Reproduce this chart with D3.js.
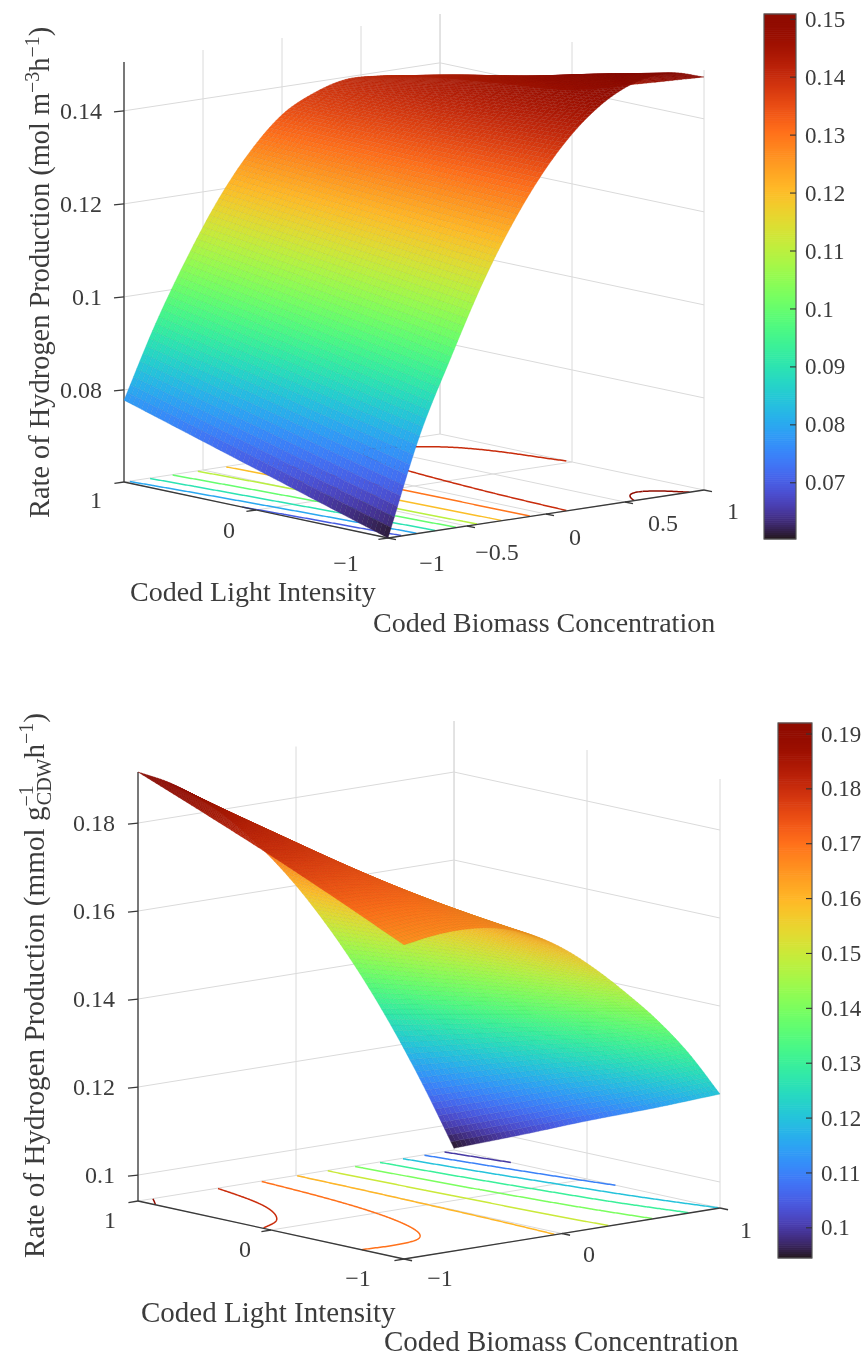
<!DOCTYPE html>
<html>
<head>
<meta charset="utf-8">
<script src="https://cdn.jsdelivr.net/npm/d3@7"></script>
<style>
  html, body { margin: 0; padding: 0; background: #fff; }
  svg { display: block; filter: blur(0.5px); }
  text { font-family: "Liberation Serif", serif; fill: #3c3c3c; }
</style>
</head>
<body>
<svg id="chart" width="866" height="1358"></svg>
<script>
// Grid positions of the read-off values
const biomassLevels = [-1, -0.8, -0.6, -0.4, -0.2, 0, 0.2, 0.4, 0.6, 0.8, 1];
const lightLevels = [-1, -0.5, 0, 0.5, 1];

// Upper plot, rate in mol m-3 h-1, one array per coded light level
const volRateLightM1  = [0.0602, 0.0811, 0.0971, 0.1120, 0.1244, 0.1345, 0.1422, 0.1475, 0.1504, 0.1509, 0.1490];
const volRateLightM05 = [0.0646, 0.0841, 0.0995, 0.1135, 0.1251, 0.1344, 0.1411, 0.1456, 0.1478, 0.1476, 0.1445];
const volRateLight0   = [0.0690, 0.0872, 0.1018, 0.1150, 0.1258, 0.1342, 0.1399, 0.1436, 0.1448, 0.1440, 0.1402];
const volRateLightP05 = [0.0734, 0.0902, 0.1041, 0.1165, 0.1265, 0.1341, 0.1388, 0.1415, 0.1422, 0.1412, 0.1385];
const volRateLightP1  = [0.0778, 0.0932, 0.1064, 0.1180, 0.1272, 0.1340, 0.1376, 0.1395, 0.1392, 0.1382, 0.1370];

// Lower plot, rate in mmol gCDW-1 h-1
const cellRateLightM1  = [0.1655, 0.1666, 0.1668, 0.1658, 0.1632, 0.1590, 0.1533, 0.1466, 0.1392, 0.1305, 0.1200];
const cellRateLightM05 = [0.1725, 0.1722, 0.1712, 0.1686, 0.1648, 0.1594, 0.1525, 0.1444, 0.1354, 0.1250, 0.1135];
const cellRateLight0   = [0.1792, 0.1780, 0.1755, 0.1715, 0.1664, 0.1597, 0.1517, 0.1423, 0.1320, 0.1205, 0.1073];
const cellRateLightP05 = [0.1855, 0.1830, 0.1795, 0.1743, 0.1678, 0.1600, 0.1507, 0.1401, 0.1284, 0.1155, 0.1008];
const cellRateLightP1  = [0.1916, 0.1880, 0.1830, 0.1767, 0.1690, 0.1600, 0.1496, 0.1379, 0.1248, 0.1103, 0.0945];

// Ticks and contour levels
const volRateTicks = [0.08, 0.1, 0.12, 0.14];
const cellRateTicks = [0.1, 0.12, 0.14, 0.16, 0.18];
const volBiomassTicks = [-1, -0.5, 0, 0.5, 1];
const cellBiomassTicks = [-1, 0, 1];
const lightTicks = [-1, 0, 1];
const volColorTicks = [0.07, 0.08, 0.09, 0.1, 0.11, 0.12, 0.13, 0.14, 0.15];
const cellColorTicks = [0.1, 0.11, 0.12, 0.13, 0.14, 0.15, 0.16, 0.17, 0.18, 0.19];
const volContourLevels = [0.07, 0.08, 0.09, 0.1, 0.11, 0.12, 0.13, 0.14, 0.15];
const cellContourLevels = [0.1, 0.11, 0.12, 0.13, 0.14, 0.15, 0.16, 0.17, 0.18, 0.19];

const tickColor = "#3a3a3a", gridColor = "#dadada";

const panels = [
  {
    rows: [volRateLightM1, volRateLightM05, volRateLight0, volRateLightP05, volRateLightP1],
    zDomain: [0.0602, 0.1505], zHeight: 420,
    front: [388, 538], alongB: [316, -48], alongL: [-264, -56],
    depth: [267, 311, 77],
    zTicks: volRateTicks, zLabelX: 102, bTicks: volBiomassTicks, lTicks: lightTicks,
    bLabelDx: [44, 30, 29, 38, 29], bLabelDy: [25, 26, 23, 21, 21],
    lLabelDx: [-42, -27, -28], lLabelDy: [25, 20, 18],
    tickSize: 22, lightTitle: [130, 601, 28], biomassTitle: [373, 632, 28],
    bar: { x: 764, w: 32, top: 14, bottom: 539, domain: [0.0603, 0.1509], ticks: volColorTicks, labelX: 805, size: 23 },
    levels: volContourLevels,
    zTitle: { x: 49, y: 518, size: 28.4 }
  },
  {
    rows: [cellRateLightM1, cellRateLightM05, cellRateLight0, cellRateLightP05, cellRateLightP1],
    zDomain: [0.0941, 0.1916], zHeight: 429,
    front: [404, 1259], alongB: [316, -51], alongL: [-266, -58],
    depth: [267, 303, 82],
    zTicks: cellRateTicks, zLabelX: 115, bTicks: cellBiomassTicks, lTicks: lightTicks,
    bLabelDx: [36, 27, 26], bLabelDy: [19, 21, 22],
    lLabelDx: [-46, -26, -28], lLabelDy: [19, 19, 19],
    tickSize: 22, lightTitle: [141, 1322, 29], biomassTitle: [384, 1351, 29],
    bar: { x: 778, w: 34, top: 723, bottom: 1258, domain: [0.0945, 0.1920], ticks: cellColorTicks, labelX: 821, size: 23 },
    levels: cellContourLevels,
    zTitle: { x: 44, y: 1258, size: 29.2 }
  }
];

var svg = d3.select("#chart");

// Catmull-Rom reading of a row between its read-off values, p in index units
function sampleRow(arr, p) {
  var n = arr.length - 1;
  var i = Math.max(0, Math.min(n - 1, Math.floor(p)));
  var f = p - i;
  var p1 = arr[i], p2 = arr[i + 1];
  var p0 = i > 0 ? arr[i - 1] : 2 * p1 - p2;
  var p3 = i + 2 <= n ? arr[i + 2] : 2 * p2 - p1;
  return 0.5 * (2 * p1 + (p2 - p0) * f + (2 * p0 - 5 * p1 + 4 * p2 - p3) * f * f + (3 * p1 - p0 - 3 * p2 + p3) * f * f * f);
}

function labelOf(v) { return String(v).replace("-", "\u2212"); }

function drawPanel(cfg) {
  var g = svg.append("g");
  var bScale = d3.scaleLinear().domain(d3.extent(biomassLevels)).range([0, 1]);
  var lScale = d3.scaleLinear().domain(d3.extent(lightLevels)).range([0, 1]);
  var zScale = d3.scaleLinear().domain(cfg.zDomain).range([0, cfg.zHeight]);
  var color = d3.scaleSequential(d3.interpolateTurbo).domain(cfg.bar.domain);
  var bIndex = d3.scaleLinear().domain([0, 1]).range([0, biomassLevels.length - 1]);
  var lIndex = d3.scaleLinear().domain([0, 1]).range([0, lightLevels.length - 1]);

  // u along biomass, v along light (0 at the front corner)
  function floorPt(u, v) {
    return [cfg.front[0] + u * cfg.alongB[0] + v * cfg.alongL[0],
            cfg.front[1] + u * cfg.alongB[1] + v * cfg.alongL[1]];
  }
  function project(u, v, z) {
    var p = floorPt(u, v);
    return [p[0], p[1] - zScale(z)];
  }
  function rateAt(u, v) {
    var column = cfg.rows.map(function (r) { return sampleRow(r, bIndex(u)); });
    return sampleRow(column, lIndex(v));
  }

  var line = d3.line();
  var zFloor = cfg.zDomain[0], zTop = cfg.zDomain[1];

  function seg(a, b, stroke, width) {
    g.append("path").attr("d", line([a, b])).attr("fill", "none")
      .attr("stroke", stroke).attr("stroke-width", width);
  }

  // back walls and floor grid
  cfg.bTicks.forEach(function (b) {
    var u = bScale(b);
    seg(project(u, 1, zFloor), project(u, 1, zTop), gridColor, 1);
    seg(project(u, 0, zFloor), project(u, 1, zFloor), gridColor, 1);
  });
  cfg.lTicks.forEach(function (l) {
    var v = lScale(l);
    seg(project(1, v, zFloor), project(1, v, zTop), gridColor, 1);
    seg(project(0, v, zFloor), project(1, v, zFloor), gridColor, 1);
  });
  cfg.zTicks.forEach(function (z) {
    seg(project(0, 1, z), project(1, 1, z), gridColor, 1);
    seg(project(1, 1, z), project(1, 0, z), gridColor, 1);
  });

  // floor contours from the same surface
  var gridN = 220;
  var values = new Array(gridN * gridN);
  for (var j = 0; j < gridN; j++) {
    for (var i = 0; i < gridN; i++) {
      values[j * gridN + i] = rateAt(i / (gridN - 1), j / (gridN - 1));
    }
  }
  var contours = d3.contours().size([gridN, gridN]).smooth(true).thresholds(cfg.levels)(values);
  function inside(pt) {
    return pt[0] > 0.5 && pt[0] < gridN - 0.5 && pt[1] > 0.5 && pt[1] < gridN - 0.5;
  }
  function toFloor(pt) {
    return floorPt((pt[0] - 0.5) / (gridN - 1), (pt[1] - 0.5) / (gridN - 1));
  }
  contours.forEach(function (c) {
    var segs = [];
    c.coordinates.forEach(function (poly) {
      poly.forEach(function (ring) {
        var cur = [];
        ring.forEach(function (pt) {
          if (inside(pt)) cur.push(toFloor(pt));
          else { if (cur.length > 1) segs.push(cur); cur = []; }
        });
        if (cur.length > 1) segs.push(cur);
      });
    });
    g.selectAll(null).data(segs).join("path")
      .attr("d", line).attr("fill", "none")
      .attr("stroke", color(c.value)).attr("stroke-width", 1.5);
  });

  // box edges and ticks
  seg(project(0, 1, zFloor), project(0, 1, zTop), tickColor, 1.3);
  seg(project(0, 1, zFloor), project(0, 0, zFloor), tickColor, 1.3);
  seg(project(0, 0, zFloor), project(1, 0, zFloor), tickColor, 1.3);

  var bDir = [-cfg.alongB[0] / cfg.tickSize / 1.5, -cfg.alongB[1] / cfg.tickSize / 1.5];
  var lDir = [-cfg.alongL[0] / cfg.tickSize / 1.5, -cfg.alongL[1] / cfg.tickSize / 1.5];
  cfg.zTicks.forEach(function (z) {
    var p = project(0, 1, z);
    seg([p[0] - 10, p[1] + 1], p, tickColor, 1.3);
    g.append("text").attr("x", cfg.zLabelX).attr("y", p[1]).attr("dy", "0.33em")
      .attr("text-anchor", "end").attr("font-size", 24).text(labelOf(z));
  });
  cfg.bTicks.forEach(function (b, i) {
    var p = floorPt(bScale(b), 0);
    seg(p, [p[0] + lDir[0], p[1] + lDir[1]], tickColor, 1.3);
    g.append("text").attr("x", p[0] + cfg.bLabelDx[i]).attr("y", p[1] + cfg.bLabelDy[i]).attr("dy", "0.33em")
      .attr("text-anchor", "middle").attr("font-size", 24).text(labelOf(b));
  });
  cfg.lTicks.forEach(function (l, i) {
    var p = floorPt(0, lScale(l));
    seg(p, [p[0] + bDir[0], p[1] + bDir[1]], tickColor, 1.3);
    g.append("text").attr("x", p[0] + cfg.lLabelDx[i]).attr("y", p[1] + cfg.lLabelDy[i]).attr("dy", "0.33em")
      .attr("text-anchor", "middle").attr("font-size", 24).text(labelOf(l));
  });

  // surface facets, far ones first
  var nU = 100, nV = 60, facets = [];
  var grid = [];
  for (var a = 0; a <= nU; a++) {
    var u = a / nU;
    var col = cfg.rows.map(function (r) { return sampleRow(r, bIndex(u)); });
    grid.push(d3.range(nV + 1).map(function (k) { return sampleRow(col, lIndex(k / nV)); }));
  }
  for (var a2 = 0; a2 < nU; a2++) {
    for (var k = 0; k < nV; k++) {
      var u0 = a2 / nU, u1 = (a2 + 1) / nU, v0 = k / nV, v1 = (k + 1) / nV;
      var zs = [grid[a2][k], grid[a2 + 1][k], grid[a2 + 1][k + 1], grid[a2][k + 1]];
      var zm = d3.mean(zs);
      facets.push({
        poly: [project(u0, v0, zs[0]), project(u1, v0, zs[1]), project(u1, v1, zs[2]), project(u0, v1, zs[3])],
        z: zm,
        key: cfg.depth[0] * (u0 + u1) / 2 + cfg.depth[1] * (v0 + v1) / 2 - cfg.depth[2] * (zm - zFloor) / (zTop - zFloor)
      });
    }
  }
  facets.sort(function (p, q) { return q.key - p.key; });
  var closed = d3.line().curve(d3.curveLinearClosed);
  g.append("g").selectAll("path").data(facets).join("path")
    .attr("d", function (d) { return closed(d.poly); })
    .attr("fill", function (d) { return color(d.z); })
    .attr("stroke", function (d) { return d3.color(color(d.z)).darker(0.3); })
    .attr("stroke-width", 0.35);

  // axis titles
  g.append("text").attr("x", cfg.lightTitle[0]).attr("y", cfg.lightTitle[1])
    .attr("font-size", cfg.lightTitle[2]).text("Coded Light Intensity");
  g.append("text").attr("x", cfg.biomassTitle[0]).attr("y", cfg.biomassTitle[1])
    .attr("font-size", cfg.biomassTitle[2]).text("Coded Biomass Concentration");

  // colorbar
  var bar = cfg.bar;
  var barScale = d3.scaleLinear().domain(bar.domain).range([bar.bottom, bar.top]);
  var steps = d3.range(256).map(function (i) { return bar.domain[0] + (i + 0.5) / 256 * (bar.domain[1] - bar.domain[0]); });
  var stepH = (bar.bottom - bar.top) / 256;
  g.append("g").selectAll("rect").data(steps).join("rect")
    .attr("x", bar.x).attr("width", bar.w)
    .attr("y", function (d) { return barScale(d) - stepH / 2 - 0.3; })
    .attr("height", stepH + 0.6)
    .attr("fill", function (d) { return color(d); });
  g.append("rect").attr("x", bar.x).attr("y", bar.top).attr("width", bar.w).attr("height", bar.bottom - bar.top)
    .attr("fill", "none").attr("stroke", "#555").attr("stroke-width", 1.2);
  bar.ticks.forEach(function (t) {
    var y = barScale(t);
    seg([bar.x + bar.w - 6, y], [bar.x + bar.w, y], "#333", 1.1);
    g.append("text").attr("x", bar.labelX).attr("y", y).attr("dy", "0.33em")
      .attr("font-size", bar.size).text(labelOf(t));
  });

  return g;
}

function rotatedTitle(cfg) {
  var t = svg.append("text")
    .attr("transform", "translate(" + cfg.zTitle.x + "," + cfg.zTitle.y + ") rotate(-90)")
    .attr("font-size", cfg.zTitle.size);
  return t;
}

panels.forEach(function (p) { drawPanel(p); });

// z axis titles with their raised and lowered parts
var t1 = rotatedTitle(panels[0]);
t1.append("tspan").text("Rate of Hydrogen Production (mol m");
t1.append("tspan").attr("dy", -10).attr("font-size", 20).text("\u22123");
t1.append("tspan").attr("dy", 10).text("h");
t1.append("tspan").attr("dy", -10).attr("font-size", 20).text("\u22121");
t1.append("tspan").attr("dy", 10).text(")");

var t2 = rotatedTitle(panels[1]);
t2.append("tspan").text("Rate of Hydrogen Production (mmol g");
t2.append("tspan").attr("dy", -11).attr("font-size", 20).text("\u22121");
t2.append("tspan").attr("dx", -20).attr("dy", 18).attr("font-size", 20).text("CDW");
t2.append("tspan").attr("dy", -7).text("h");
t2.append("tspan").attr("dy", -11).attr("font-size", 20).text("\u22121");
t2.append("tspan").attr("dy", 11).text(")");
</script>
</body>
</html>
